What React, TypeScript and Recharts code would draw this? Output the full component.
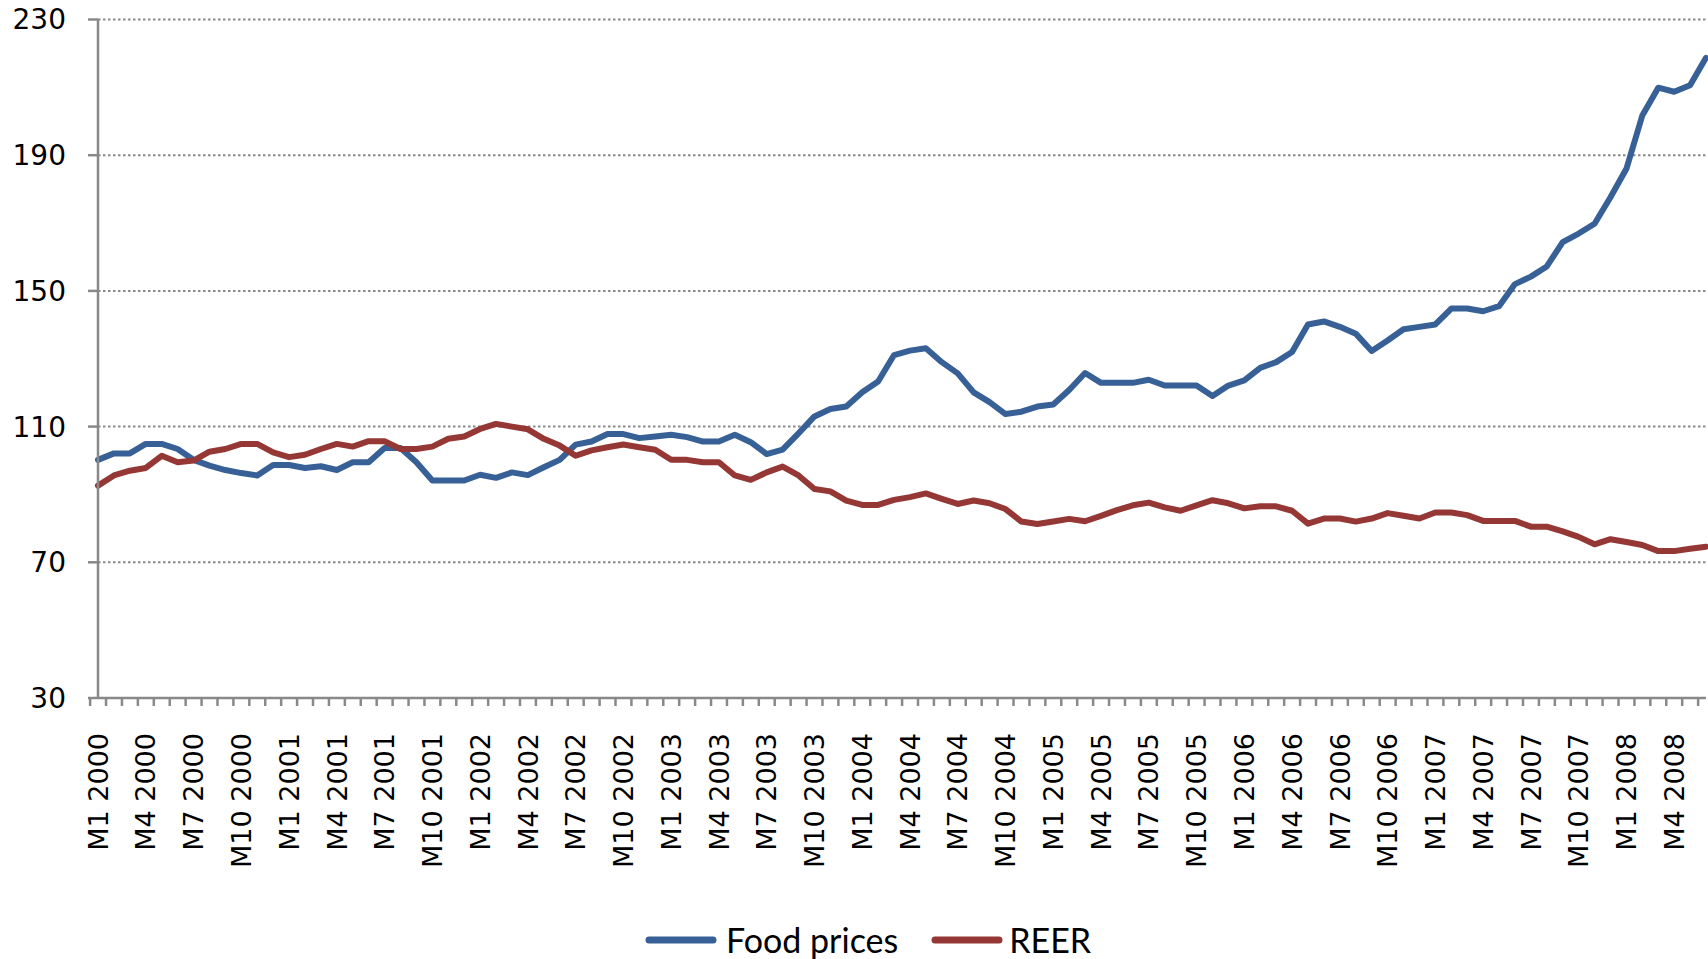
import React from 'react';
import { LineChart, Line, XAxis, YAxis, CartesianGrid, Legend } from 'recharts';

// Monthly observations, M1 2000 through M6 2008
const YEARS = [2000, 2001, 2002, 2003, 2004, 2005, 2006, 2007, 2008];
const MONTHS = ['M1', 'M2', 'M3', 'M4', 'M5', 'M6', 'M7', 'M8', 'M9', 'M10', 'M11', 'M12'];
const MONTHS_IN_LAST_YEAR = 6;
const LABELLED_MONTHS = ['M1', 'M4', 'M7', 'M10'];
const Y_TICKS = [30, 70, 110, 150, 190, 230];

const FOOD_PRICES = [
  100.2, 102.1, 102.1, 104.9, 104.9, 103.4, 100.2, 98.5, 97.2, 96.3, 95.6, 98.7,
  98.7, 97.8, 98.3, 97.2, 99.5, 99.5, 103.7, 103.7, 99.5, 94.1, 94.1, 94.1,
  95.8, 94.9, 96.5, 95.7, 98.0, 100.2, 104.7, 105.6, 107.8, 107.8, 106.6, 107.1,
  107.6, 106.9, 105.6, 105.6, 107.6, 105.4, 101.9, 103.2, 108.0, 113.0, 115.2, 115.9,
  120.1, 123.3, 131.1, 132.4, 133.1, 129.0, 125.7, 120.1, 117.2, 113.7, 114.4, 115.9,
  116.5, 120.8, 125.8, 122.9, 122.9, 122.9, 123.8, 122.1, 122.1, 122.1, 119.0, 122.1,
  123.6, 127.3, 129.0, 132.0, 140.1, 141.0, 139.4, 137.4, 132.3, 135.4, 138.7, 139.4,
  140.1, 144.8, 144.8, 144.0, 145.5, 152.0, 154.2, 157.2, 164.4, 166.9, 169.8, 177.6,
  186.0, 201.7, 209.9, 208.7, 210.6, 218.7,
];

const REER = [
  92.6, 95.6, 97.0, 97.8, 101.4, 99.5, 100.0, 102.6, 103.4, 104.9, 104.9, 102.4,
  101.0, 101.7, 103.4, 104.9, 104.1, 105.7, 105.7, 103.4, 103.4, 104.1, 106.4, 107.1,
  109.3, 110.8, 110.0, 109.2, 106.4, 104.4, 101.4, 103.0, 103.9, 104.7, 103.9, 103.2,
  100.2, 100.2, 99.5, 99.5, 95.6, 94.3, 96.5, 98.2, 95.6, 91.6, 90.9, 88.2,
  86.9, 86.9, 88.4, 89.2, 90.3, 88.7, 87.2, 88.2, 87.4, 85.7, 82.0, 81.3,
  82.0, 82.8, 82.1, 83.7, 85.4, 86.8, 87.6, 86.2, 85.2, 86.8, 88.3, 87.4,
  85.9, 86.5, 86.5, 85.2, 81.4, 82.9, 82.9, 82.0, 82.9, 84.5, 83.7, 82.9,
  84.7, 84.7, 83.9, 82.2, 82.2, 82.2, 80.5, 80.5, 79.1, 77.5, 75.3, 76.8,
  76.0, 75.1, 73.3, 73.3, 74.0, 74.6,
];

const CATEGORIES: string[] = YEARS.flatMap((y, yi) =>
  MONTHS.slice(0, yi === YEARS.length - 1 ? MONTHS_IN_LAST_YEAR : MONTHS.length).map((m) => `${m} ${y}`)
);

const rows = CATEGORIES.map((period, i) => ({
  period,
  food: FOOD_PRICES[i],
  reer: REER[i],
}));

// Layout
const WIDTH = 1708;
const HEIGHT = 959;
const Y_AXIS_WIDTH = 98;
const RIGHT_MARGIN = 2;
const BAND = (WIDTH - Y_AXIS_WIDTH - RIGHT_MARGIN) / CATEGORIES.length;

const AXIS_GREY = '#898989';
const BLUE = '#376196';
const RED = '#953735';
const AXIS_FONT = '"DejaVu Sans", Verdana, sans-serif';
const LEGEND_FONT = 'Lato, "Open Sans", sans-serif';

function MonthTick(props: any) {
  const { x, y, payload, index } = props;
  const i: number = payload?.index ?? index;
  const label: string = payload?.value ?? '';
  const month = label.split(' ')[0];
  const showLabel = LABELLED_MONTHS.includes(month);
  const left = x - BAND / 2;
  const ly = y + 35;
  return (
    <g>
      <line x1={left} y1={y} x2={left} y2={y + 8} stroke={AXIS_GREY} strokeWidth={2.5} />
      {i === CATEGORIES.length - 1 && (
        <line x1={x + BAND / 2} y1={y} x2={x + BAND / 2} y2={y + 8} stroke={AXIS_GREY} strokeWidth={2.5} />
      )}
      {showLabel && (
        <text
          x={x}
          y={ly}
          transform={`rotate(-90, ${x}, ${ly})`}
          textAnchor="end"
          dy="0.36em"
          fontFamily={AXIS_FONT}
          fontSize={27}
          fill="#000"
        >
          {label}
        </text>
      )}
    </g>
  );
}

function LegendBar(props: any) {
  const items: any[] = props.payload ?? [];
  return (
    <div
      style={{
        display: 'flex',
        alignItems: 'center',
        height: 38,
        paddingLeft: 645,
        fontFamily: LEGEND_FONT,
        fontSize: 34,
        color: '#000',
      }}
    >
      {items.map((it, k) => (
        <div key={k} style={{ display: 'flex', alignItems: 'center', marginRight: k === 0 ? 33 : 0 }}>
          <svg width={72} height={10} style={{ display: 'block', marginRight: k === 0 ? 9 : 6 }}>
            <line x1={4} y1={5} x2={68} y2={5} stroke={it.color} strokeWidth={7} strokeLinecap="round" />
          </svg>
          <span style={{ lineHeight: '38px' }}>{it.value}</span>
        </div>
      ))}
    </div>
  );
}

export default function App() {
  return (
    <div style={{ position: 'absolute', left: 0, top: 0, width: WIDTH, height: HEIGHT, background: '#fff' }}>
      <LineChart
        width={WIDTH}
        height={HEIGHT}
        data={rows}
        margin={{ top: 19.5, right: RIGHT_MARGIN, bottom: 0, left: 0 }}
      >
        <CartesianGrid vertical={false} stroke={AXIS_GREY} strokeWidth={2} strokeDasharray="2.5 2.5" />
        <XAxis
          dataKey="period"
          interval={0}
          height={223}
          tickSize={0}
          tickMargin={0}
          tickLine={false}
          axisLine={{ stroke: AXIS_GREY, strokeWidth: 2.5 }}
          tick={<MonthTick />}
        />
        <YAxis
          width={Y_AXIS_WIDTH}
          domain={[30, 230]}
          ticks={Y_TICKS}
          interval={0}
          tickSize={10}
          tickMargin={22}
          axisLine={{ stroke: AXIS_GREY, strokeWidth: 2.5 }}
          tickLine={{ stroke: AXIS_GREY, strokeWidth: 2.5 }}
          tick={{ fill: '#000', fontSize: 28, fontFamily: AXIS_FONT }}
        />
        <Legend verticalAlign="bottom" align="left" content={<LegendBar />} />
        <Line
          type="linear"
          dataKey="food"
          name="Food prices"
          stroke={BLUE}
          strokeWidth={6}
          dot={false}
          strokeLinejoin="round"
          strokeLinecap="round"
          isAnimationActive={false}
        />
        <Line
          type="linear"
          dataKey="reer"
          name="REER"
          stroke={RED}
          strokeWidth={6}
          dot={false}
          strokeLinejoin="round"
          strokeLinecap="round"
          isAnimationActive={false}
        />
      </LineChart>
    </div>
  );
}
